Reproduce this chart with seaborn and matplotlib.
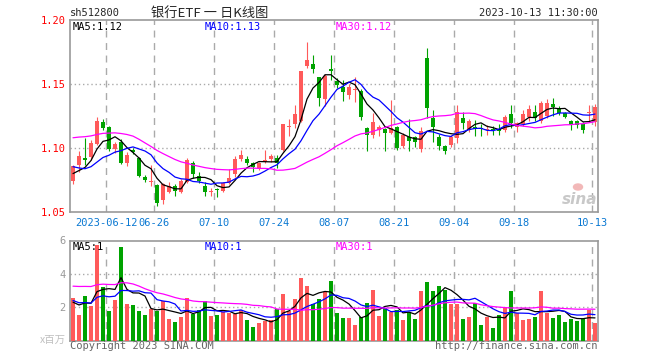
import numpy as np
import pandas as pd
import matplotlib
matplotlib.use("Agg")
import matplotlib.pyplot as plt
from matplotlib.patches import Ellipse
import seaborn as sns

# daily bars for sh512800, 2023-06-02 .. 2023-10-13 (88 trading days)
opens = [1.074, 1.087, 1.0915, 1.093, 1.103, 1.120, 1.1165, 1.099, 1.105, 1.088,
         1.0985, 1.092, 1.0776, 1.0738, 1.0711, 1.0594, 1.0659, 1.0703, 1.0659, 1.0737,
         1.088, 1.0781, 1.0703, 1.0655, 1.0675, 1.0666, 1.0724, 1.080, 1.0914, 1.0912,
         1.088, 1.0845, 1.0893, 1.0912, 1.0919, 1.0984, 1.1162, 1.1185, 1.1213, 1.1643,
         1.1656, 1.1552, 1.138, 1.1615, 1.1526, 1.1479, 1.1414, 1.1456, 1.1445, 1.1154,
         1.1102, 1.1141, 1.1146, 1.112, 1.1166, 1.1016, 1.1083, 1.1088, 1.0995, 1.1701,
         1.1232, 1.1088, 1.1016, 1.1023, 1.1076, 1.1232, 1.1141, 1.1162, 1.1152, 1.1144,
         1.1148, 1.1150, 1.1141, 1.1266, 1.1166, 1.1185, 1.1245, 1.1279, 1.1211, 1.125,
         1.1344, 1.1302, 1.1271, 1.1211, 1.1211, 1.1185, 1.127, 1.1206]
highs = [1.087, 1.098, 1.108, 1.106, 1.124, 1.123, 1.117, 1.105, 1.107, 1.0965,
         1.100, 1.093, 1.079, 1.0867, 1.0715, 1.0724, 1.0737, 1.0716, 1.0755, 1.0922,
         1.0898, 1.0812, 1.0734, 1.0687, 1.0687, 1.0737, 1.0836, 1.0937, 1.0984, 1.094,
         1.089, 1.089, 1.0984, 1.0953, 1.0949, 1.119, 1.1227, 1.1336, 1.1605, 1.183,
         1.1727, 1.1557, 1.158, 1.1727, 1.155, 1.1535, 1.150, 1.1557, 1.146, 1.1161,
         1.1271, 1.118, 1.116, 1.1372, 1.117, 1.1115, 1.1229, 1.109, 1.1163, 1.1779,
         1.1297, 1.111, 1.102, 1.1104, 1.1336, 1.128, 1.1225, 1.122, 1.1185, 1.118,
         1.117, 1.1185, 1.1255, 1.1336, 1.1205, 1.1295, 1.1336, 1.1336, 1.137, 1.138,
         1.1389, 1.1325, 1.1284, 1.1219, 1.1219, 1.1205, 1.1336, 1.1342]
lows = [1.072, 1.081, 1.087, 1.091, 1.102, 1.114, 1.098, 1.096, 1.0875, 1.086,
        1.095, 1.0775, 1.0737, 1.0703, 1.0547, 1.0563, 1.0646, 1.0625, 1.0646, 1.0724,
        1.0766, 1.0724, 1.0625, 1.0625, 1.0617, 1.0655, 1.0715, 1.077, 1.0898, 1.087,
        1.0815, 1.083, 1.088, 1.0893, 1.0844, 1.0975, 1.1096, 1.1159, 1.1205, 1.1623,
        1.1583, 1.1326, 1.1326, 1.1531, 1.147, 1.1369, 1.138, 1.1362, 1.1219, 1.098,
        1.1076, 1.1096, 1.098, 1.111, 1.0984, 1.100, 1.0977, 1.101, 1.097, 1.1232,
        1.1043, 1.0984, 1.0953, 1.1005, 1.104, 1.1148, 1.1125, 1.1096, 1.1096, 1.110,
        1.110, 1.110, 1.1125, 1.1159, 1.1128, 1.117, 1.1211, 1.121, 1.1196, 1.1232,
        1.1247, 1.126, 1.1232, 1.1141, 1.1155, 1.112, 1.121, 1.117]
closes = [1.086, 1.094, 1.091, 1.104, 1.121, 1.116, 1.0995, 1.1035, 1.088, 1.0945,
          1.097, 1.078, 1.075, 1.0745, 1.0573, 1.0716, 1.0705, 1.0666, 1.0745, 1.0906,
          1.0797, 1.0742, 1.0659, 1.066, 1.0668, 1.0724, 1.0768, 1.0912, 1.0945, 1.088,
          1.0854, 1.088, 1.0906, 1.0938, 1.0885, 1.1185, 1.117, 1.1266, 1.1602, 1.1688,
          1.1617, 1.1388, 1.1565, 1.1604, 1.1492, 1.144, 1.1474, 1.1462, 1.124, 1.1102,
          1.1206, 1.1166, 1.112, 1.1154, 1.0997, 1.1102, 1.1057, 1.105, 1.1135, 1.131,
          1.1166, 1.1016, 1.0979, 1.1088, 1.1284, 1.1193, 1.1213, 1.1146, 1.1146, 1.1148,
          1.1142, 1.1135, 1.124, 1.1193, 1.1193, 1.1266, 1.1305, 1.1232, 1.1354, 1.1349,
          1.1323, 1.1276, 1.1245, 1.118, 1.118, 1.1141, 1.1285, 1.1318]
# volume, millions of shares
volumes = [2.54, 1.56, 2.7, 2.1, 5.76, 3.2, 1.8, 2.46, 5.64, 2.22,
           2.16, 1.76, 1.56, 1.9, 1.8, 2.4, 1.32, 1.14, 1.44, 2.58,
           1.6, 1.86, 2.4, 1.5, 1.56, 1.7, 1.66, 1.6, 1.86, 1.26,
           0.84, 1.08, 1.16, 1.24, 1.92, 2.82, 1.76, 2.52, 3.78, 3.26,
           2.22, 2.52, 2.94, 3.6, 1.68, 1.38, 1.34, 0.96, 1.44, 2.28,
           3.06, 1.5, 1.94, 1.74, 1.84, 1.26, 1.74, 1.32, 3.0, 3.54,
           2.96, 3.3, 3.06, 2.22, 2.22, 1.32, 1.44, 2.28, 0.96, 1.44,
           0.78, 1.56, 2.04, 2.96, 1.68, 1.26, 1.32, 1.44, 2.96, 1.68,
           1.38, 1.56, 1.14, 1.32, 1.2, 1.32, 1.86, 1.08]

# 29 sessions before the window, only used to warm up the moving averages
prev_close = [1.078, 1.082, 1.085, 1.088, 1.090, 1.093, 1.098, 1.103,
              1.118, 1.135, 1.152, 1.160, 1.158, 1.150, 1.146, 1.140, 1.135, 1.130, 1.124, 1.121,
              1.104, 1.097, 1.088, 1.085, 1.080,
              1.082, 1.079, 1.077, 1.076]
prev_volume = [2.1, 2.6, 2.3, 2.5, 2.2, 2.4, 2.6, 2.3, 2.44,
               4.2, 5.6, 6.3, 5.8, 5.1, 4.6, 4.4, 4.5, 4.0, 3.9, 3.96,
               2.9, 2.6, 2.4, 2.3, 2.3,
               2.4, 2.1, 2.2, 2.26]

tick_idx = [6, 14, 24, 34, 44, 54, 64, 74, 87]
tick_labels = ['2023-06-12', '06-26', '07-10', '07-24', '08-07',
               '08-21', '09-04', '09-18', '10-13']
ma_price_text = ['MA5:1.12', 'MA10:1.13', 'MA30:1.12']
ma_vol_text = ['MA5:1', 'MA10:1', 'MA30:1']

RED = '#ff5a5a'
GREEN = '#00a300'
GRID = '#aaaaaa'
MA_COLORS = ['black', '#0000ff', '#ff00ff']

df = pd.DataFrame({'open': opens, 'high': highs, 'low': lows,
                   'close': closes, 'vol': volumes})
df['idx'] = np.arange(len(df))
n_prev = len(prev_close)
all_close = pd.Series(prev_close + closes)
all_vol = pd.Series(prev_volume + volumes)
for n in (5, 10, 30):
    df['ma%d' % n] = all_close.rolling(n).mean().iloc[n_prev:].values
    df['vma%d' % n] = all_vol.rolling(n).mean().iloc[n_prev:].values
up = df.close >= df.open
colors = np.where(up, RED, GREEN)

sns.set_style("white")
plt.rcParams['font.family'] = ['DejaVu Sans Mono', 'Noto Sans CJK SC']

W, H = 660, 360
fig = plt.figure(figsize=(W / 100, H / 100), dpi=100)


def box(x0, y0, x1, y1):
    return [x0 / W, 1 - y1 / H, (x1 - x0) / W, (y1 - y0) / H]


ax = fig.add_axes(box(70, 20, 598, 212))
axv = fig.add_axes(box(70, 240.5, 598, 340.5))

# candles
ax.vlines(df.idx, df.low, df.high, colors=colors, linewidth=0.8, zorder=2)
body = np.maximum((df.close - df.open).abs(), 0.0008)
ax.bar(df.idx, body, bottom=np.minimum(df.open, df.close), width=0.8,
       color=colors, linewidth=0, zorder=3)
for n, c in zip((5, 10, 30), MA_COLORS):
    sns.lineplot(x=df.idx, y=df['ma%d' % n], ax=ax, color=c, linewidth=0.9,
                 legend=False, zorder=4)

# volume
axv.bar(df.idx, df.vol, width=0.8, color=colors, linewidth=0, zorder=3)
for n, c in zip((5, 10, 30), MA_COLORS):
    sns.lineplot(x=df.idx, y=df['vma%d' % n], ax=axv, color=c, linewidth=0.9,
                 legend=False, zorder=4)

for a in (ax, axv):
    a.set_xlim(-0.5, len(df) - 0.5)
    a.set_xlabel('')
    a.set_ylabel('')
    for t in tick_idx:
        a.axvline(t - 0.45, color=GRID, linewidth=1, dashes=(5, 4), zorder=1)
    for s in a.spines.values():
        s.set_color('#999999')
        s.set_linewidth(1.2)
    a.tick_params(length=0)

ax.set_ylim(1.05, 1.20)
ax.set_yticks([1.05, 1.10, 1.15, 1.20])
ax.set_yticklabels(['1.05', '1.10', '1.15', '1.20'], color='red', fontsize=7.5)
for yv in (1.10, 1.15):
    ax.axhline(yv, color=GRID, linewidth=1, linestyle=(0, (1, 2)), zorder=1)
ax.set_xticks([t - 0.45 for t in tick_idx])
ax.set_xticklabels(tick_labels, color='#0a78d2', fontsize=7.5)
ax.tick_params(axis='x', pad=4)
ax.tick_params(axis='y', pad=3)

axv.set_ylim(0, 6)
axv.set_yticks([2, 4, 6])
axv.set_yticklabels(['2', '4', '6'], color='#999999', fontsize=7.5)
axv.tick_params(axis='y', pad=3)
axv.set_xticks([])
for yv in (2, 4):
    axv.axhline(yv, color=GRID, linewidth=1, linestyle=(0, (1, 2)), zorder=1)

# moving-average captions
for a, texts, yy in ((ax, ma_price_text, 27), (axv, ma_vol_text, 246.5)):
    for txt, c, xx in zip(texts, MA_COLORS, (73, 205, 336)):
        fig.text(xx / W, 1 - yy / H, txt, color=c, fontsize=7.5,
                 ha='left', va='center')

# header
fig.text(70 / W, 1 - 13 / H, 'sh512800', fontsize=7.5, ha='left', va='center')
fig.text(151 / W, 1 - 13 / H, '银行ETF 一 日K线图', fontsize=9.5,
         family=['Noto Sans CJK SC'], ha='left', va='center')
fig.text(598 / W, 1 - 13 / H, '2023-10-13 11:30:00', fontsize=7.5,
         ha='right', va='center')

# footer
fig.text(66 / W, 1 - 340 / H, 'x百万', fontsize=7.5, color='#c0c0c0',
         family=['Noto Sans CJK SC'], ha='right', va='center')
fig.text(70 / W, 1 - 346 / H, 'Copyright 2023 SINA.COM', fontsize=7.5,
         color='#666666', ha='left', va='center')
fig.text(597 / W, 1 - 346 / H, 'http://finance.sina.com.cn', fontsize=7.5,
         color='#666666', ha='right', va='center')

# sina watermark
fig.text(580 / W, 1 - 199 / H, 'sina', fontsize=11, fontweight='bold',
         style='italic', family=['DejaVu Sans'], color='#c8c8c8',
         ha='center', va='center')
fig.add_artist(Ellipse((578 / W, 1 - 187 / H), 9 / W, 6 / H,
                       transform=fig.transFigure, color='#f2b8b8', zorder=5))

fig.savefig('out.png', dpi=100)
